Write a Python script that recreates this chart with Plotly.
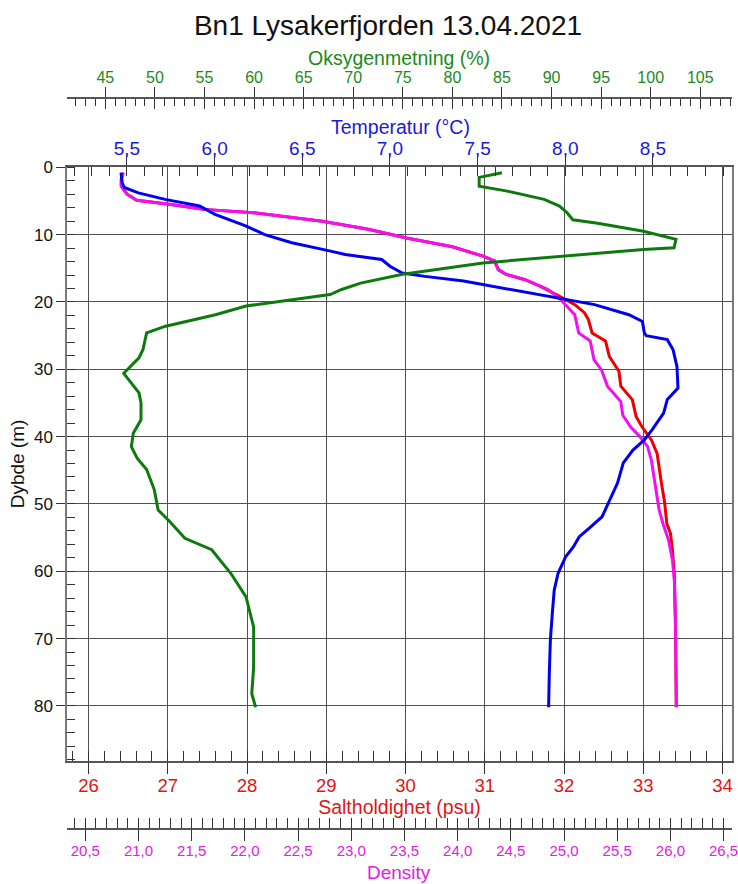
import plotly.graph_objects as go

# ---------------- data ----------------
temp_depth = [0.8, 2.3, 3.0, 3.8, 4.76, 5.75, 7.0, 8.7, 10.0, 11.2, 12.3, 12.95, 13.7, 14.7,
              15.7, 16.2, 16.9, 17.9, 19.4, 20.4, 21.9, 22.9, 24.6, 25.0, 25.6, 27.1, 29.6,
              32.8, 34.5, 36.5, 39.0, 40.5, 42.0, 43.9, 46.9, 49.4, 51.9, 53.4, 54.9, 56.4,
              57.8, 60.3, 62.8, 66.3, 70.2, 75.2, 80.2]
temp = [5.466, 5.473, 5.485, 5.565, 5.717, 5.914, 6.002, 6.177, 6.286, 6.44, 6.636, 6.745,
        6.953, 7.0, 7.07, 7.2, 7.42, 7.64, 7.97, 8.167, 8.363, 8.44, 8.451, 8.462, 8.582,
        8.615, 8.637, 8.643, 8.582, 8.561, 8.495, 8.451, 8.386, 8.331, 8.298, 8.254, 8.21,
        8.145, 8.079, 8.046, 8.003, 7.959, 7.937, 7.926, 7.915, 7.909, 7.905]

oxy_depth = [0.8, 1.5, 2.8, 3.5, 4.76, 5.75, 6.75, 7.8, 8.3, 9.5, 10.7, 11.95, 12.2, 13.2,
             14.2, 15.9, 17.2, 18.15, 18.9, 20.6, 21.9, 23.6, 24.6, 27.1, 28.3, 30.6, 33.5,
             35.0, 37.5, 39.5, 41.5, 43.2, 44.9, 47.9, 50.9, 52.6, 55.1, 56.8, 60.3, 63.8,
             68.3, 74.2, 78.2, 80.2]
oxy = [85.0, 82.7, 82.7, 85.4, 89.25, 90.8, 91.57, 92.14, 94.65, 99.27, 102.55, 102.35,
       99.27, 90.79, 83.09, 74.99, 70.75, 68.83, 67.67, 59.19, 56.11, 51.09, 49.17, 48.79,
       48.40, 46.86, 48.40, 48.60, 48.60, 47.82, 47.63, 48.21, 49.17, 49.94, 50.33, 51.49,
       53.03, 55.73, 57.65, 59.19, 59.96, 59.96, 59.77, 60.16]

sal_depth = [0.8, 1.8, 2.8, 4.0, 4.9, 5.5, 6.25, 6.75, 8.0, 9.2, 10.5, 11.8, 13.2, 13.9,
             15.2, 15.9, 16.7, 17.7, 19.15, 20.4, 21.6, 22.6, 24.6, 25.8, 28.1, 30.3, 32.5,
             34.5, 37.0, 38.5, 40.5, 42.5, 46.4, 49.9, 52.9, 54.4, 56.8, 60.3, 67.8, 80.2]
sal = [26.438, 26.413, 26.413, 26.486, 26.608, 27.018, 27.452, 28.080, 28.950, 29.529,
       30.012, 30.591, 30.977, 31.122, 31.170, 31.268, 31.508, 31.702, 31.943, 32.136,
       32.257, 32.306, 32.354, 32.523, 32.571, 32.692, 32.716, 32.861, 32.909, 32.981,
       33.102, 33.174, 33.222, 33.270, 33.296, 33.343, 33.367, 33.391, 33.406, 33.416]

dens_depth = [0.8, 1.8, 2.8, 4.0, 4.9, 5.5, 6.25, 6.75, 8.0, 9.2, 10.5, 11.8, 13.2, 13.9,
              15.2, 15.9, 16.7, 18.15, 19.6, 21.9, 24.6, 25.8, 28.6, 30.1, 32.5, 34.8, 36.8,
              38.5, 40.0, 41.5, 43.5, 47.4, 50.9, 52.9, 55.4, 58.3, 61.3, 67.8, 80.2]
dens = [20.857, 20.838, 20.838, 20.893, 20.983, 21.289, 21.612, 22.080, 22.728, 23.159,
        23.519, 23.951, 24.238, 24.347, 24.382, 24.455, 24.634, 24.850, 24.965, 25.101,
        25.138, 25.246, 25.282, 25.353, 25.408, 25.534, 25.552, 25.623, 25.713, 25.786,
        25.821, 25.857, 25.894, 25.930, 25.983, 26.019, 26.037, 26.048, 26.056]

title_text = "Bn1 Lysakerfjorden 13.04.2021"
depth_title = "Dybde (m)"
sal_title = "Saltholdighet (psu)"
dens_title = "Density"
temp_title = "Temperatur (°C)"
oxy_title = "Oksygenmetning (%)"

# ---------------- styling ----------------
FONT = "Liberation Sans, Arial, sans-serif"
C_OXY_LINE, C_OXY_TXT = "#0e7a0e", "#1b8a1b"
C_TMP_LINE, C_TMP_TXT = "#0000ee", "#1a1ad8"
C_SAL_LINE, C_SAL_TXT = "#ee0000", "#e01414"
C_DEN_LINE, C_DEN_TXT = "#f010f0", "#e020e0"
TICKC = "#333333"
LINEC = "#555555"
GRIDC = "#505050"

SAL_RANGE = [25.728, 34.119]
DEN_RANGE = [20.328, 26.579]
TMP_RANGE = [5.158, 8.951]
OXY_RANGE = [41.138, 108.197]
DEPTH_RANGE = [88.14, 0]

W, H = 738, 884
M_L, M_R, M_T, M_B = 67, 6, 98, 55
PAPER_H = H - M_T - M_B          # 731 px
PAPER_W = W - M_L - M_R          # 665 px

fig = go.Figure()
fig.add_trace(go.Scatter(x=oxy, y=oxy_depth, xaxis="x4", yaxis="y", mode="lines",
                         line=dict(color=C_OXY_LINE, width=3), name=oxy_title))
fig.add_trace(go.Scatter(x=temp, y=temp_depth, xaxis="x3", yaxis="y", mode="lines",
                         line=dict(color=C_TMP_LINE, width=3), name=temp_title))
fig.add_trace(go.Scatter(x=sal, y=sal_depth, xaxis="x", yaxis="y", mode="lines",
                         line=dict(color=C_SAL_LINE, width=3), name=sal_title))
fig.add_trace(go.Scatter(x=dens, y=dens_depth, xaxis="x2", yaxis="y", mode="lines",
                         line=dict(color=C_DEN_LINE, width=3), name=dens_title))
# invisible helpers so that the tick-only overlay axes are drawn
for ax, xs, ds in (("x5", dens, dens_depth), ("x6", temp, temp_depth), ("x7", oxy, oxy_depth)):
    fig.add_trace(go.Scatter(x=xs, y=ds, xaxis=ax, yaxis="y", mode="lines",
                             line=dict(width=0), opacity=0, hoverinfo="skip"))

common = dict(zeroline=False, tickcolor=TICKC, tickwidth=1, tickmode="linear",
              automargin=False, ticklabeloverflow="allow")

fig.update_layout(
    width=W, height=H, autosize=False,
    margin=dict(l=M_L, r=M_R, t=M_T, b=M_B, pad=0, autoexpand=False),
    paper_bgcolor="white", plot_bgcolor="white",
    showlegend=False,
    separators=",.",
    font=dict(family=FONT, color="black"),
    title=dict(text=title_text, x=388 / W, xref="container", xanchor="center",
               y=1 - 25 / H, yref="container", yanchor="middle",
               font=dict(size=28, color="#111111", family=FONT)),
    yaxis=dict(domain=[(829 - 760.7) / PAPER_H, (829 - 167.3) / PAPER_H],
               range=DEPTH_RANGE, anchor="x", side="left",
               tick0=0, dtick=10, ticks="outside", ticklen=9,
               showline=True, mirror=True, linecolor="#7a7a7a", linewidth=1.5,
               showgrid=True, gridcolor=GRIDC, gridwidth=1,
               minor=dict(ticks="inside", ticklen=8, dtick=2, tick0=0, tickcolor=TICKC, showgrid=False),
               tickfont=dict(size=17, color="#111111"),
               title=dict(text=depth_title, font=dict(size=19, color="#111111"), standoff=4),
               **common),
    xaxis=dict(domain=[0, 1], range=SAL_RANGE, anchor="y", side="bottom",
               tick0=26, dtick=1, ticks="outside", ticklen=12, ticklabelstandoff=-5,
               showline=True, linecolor=LINEC, linewidth=1.5,
               showgrid=True, gridcolor=GRIDC, gridwidth=1,
               minor=dict(ticks="inside", ticklen=10, dtick=0.2, tick0=26, tickcolor=TICKC, showgrid=False),
               tickfont=dict(size=18.5, color=C_SAL_TXT),
               title=dict(text=sal_title, font=dict(size=19.5, color=C_SAL_TXT), standoff=6),
               **common),
    xaxis2=dict(overlaying="x", range=DEN_RANGE, anchor="free", position=0, side="bottom",
                tick0=20.5, dtick=0.5, tickformat=".1f", ticks="outside", ticklen=11,
                ticklabelstandoff=-3,
                showline=True, linecolor=LINEC, linewidth=1.5, showgrid=False,
                minor=dict(ticks="inside", ticklen=10, dtick=0.1, tick0=20.5, tickcolor=TICKC, showgrid=False),
                tickfont=dict(size=15, color=C_DEN_TXT),
                **common),
    xaxis3=dict(overlaying="x", range=TMP_RANGE, anchor="y", side="top",
                tick0=5.5, dtick=0.5, tickformat=".1f", ticks="outside", ticklen=11,
                ticklabelstandoff=-8,
                showline=True, linecolor=LINEC, linewidth=1.5, showgrid=False,
                minor=dict(ticks="inside", ticklen=9, dtick=0.1, tick0=5.5, tickcolor=TICKC, showgrid=False),
                tickfont=dict(size=19, color=C_TMP_TXT),
                **common),
    xaxis4=dict(overlaying="x", range=OXY_RANGE, anchor="free", position=1, side="top",
                tick0=45, dtick=5, ticks="outside", ticklen=10, ticklabelstandoff=-2,
                showline=True, linecolor=LINEC, linewidth=1.5, showgrid=False,
                minor=dict(ticks="inside", ticklen=7, dtick=1, tick0=45, tickcolor=TICKC, showgrid=False),
                tickfont=dict(size=16, color=C_OXY_TXT),
                **common),
    # tick-only overlays: inner halves of the major ticks
    xaxis5=dict(overlaying="x", range=DEN_RANGE, anchor="free", position=0, side="bottom",
                tick0=20.5, dtick=0.5, ticks="inside", ticklen=10, showticklabels=False,
                showline=False, showgrid=False, **common),
    xaxis6=dict(overlaying="x", range=TMP_RANGE, anchor="y", side="top",
                tick0=5.5, dtick=0.5, ticks="inside", ticklen=9, showticklabels=False,
                showline=False, showgrid=False, **common),
    xaxis7=dict(overlaying="x", range=OXY_RANGE, anchor="free", position=1, side="top",
                tick0=45, dtick=5, ticks="inside", ticklen=10, showticklabels=False,
                showline=False, showgrid=False, **common),
)

# captions of the two top axes and of the density axis
fig.add_annotation(text=oxy_title, xref="paper", yref="paper", x=(399 - M_L) / PAPER_W,
                   y=1 + (98 - 58) / PAPER_H, xanchor="center", yanchor="middle",
                   showarrow=False, font=dict(size=19.5, color=C_OXY_TXT, family=FONT))
fig.add_annotation(text=temp_title, xref="paper", yref="paper", x=(400 - M_L) / PAPER_W,
                   y=1 - (127 - 98) / PAPER_H, xanchor="center", yanchor="middle",
                   showarrow=False, font=dict(size=19.5, color=C_TMP_TXT, family=FONT))
fig.add_annotation(text=dens_title, xref="paper", yref="paper", x=(399 - M_L) / PAPER_W,
                   y=-(872 - 829) / PAPER_H, xanchor="center", yanchor="middle",
                   showarrow=False, font=dict(size=19, color=C_DEN_TXT, family=FONT))

# remove the browser's default 8 px page margin so the figure fills the window exactly
fig.write_html("out.html",
               config=dict(displayModeBar=False),
               post_script="document.body.style.margin='0';document.body.style.overflow='hidden';")
